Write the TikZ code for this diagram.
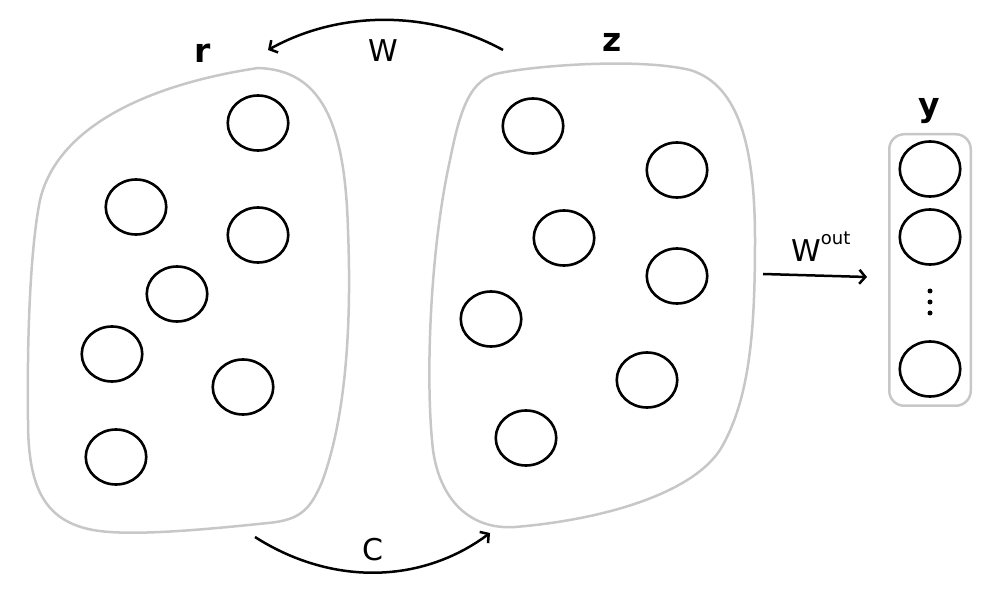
\documentclass[tikz,border=0pt]{standalone}
\usepackage{fontspec}
\setmainfont{DejaVu Sans}
\usetikzlibrary{shapes.geometric,arrows.meta}
\begin{document}
\begin{tikzpicture}[x=1pt,y=-1pt,
  unit/.style={ellipse,draw=black,line width=2.6pt,minimum width=60.5pt,minimum height=55pt,inner sep=0pt},
  blob/.style={draw=black!22,line width=2.5pt},
  conn/.style={line width=2.5pt,-{Straight Barb[length=6pt,width=14pt]}},
  lbl/.style={font=\fontsize{30}{36}\selectfont,anchor=base,inner sep=0pt},
  ttl/.style={font=\fontsize{33}{40}\selectfont\bfseries,anchor=base,inner sep=0pt},
  dot/.style={circle,fill=black,inner sep=0pt,minimum size=5pt}]
\useasboundingbox (0,0) rectangle (1007,601);
% left blob r
\draw[blob] (258,68) .. controls (320,70) and (345,120) .. (348,230)
  .. controls (352,330) and (345,420) .. (322,482)
  .. controls (310,510) and (300,520) .. (268,523)
  .. controls (220,528) and (150,535) .. (110,532)
  .. controls (45,528) and (28,490) .. (28,420)
  .. controls (27,340) and (30,250) .. (40,200)
  .. controls (57,128) and (145,85) .. (258,68) -- cycle;
% right blob z
\draw[blob] (500,73) .. controls (540,65) and (640,58) .. (690,70)
  .. controls (740,85) and (755,150) .. (755,240)
  .. controls (755,330) and (750,400) .. (720,450)
  .. controls (690,495) and (600,520) .. (515,527)
  .. controls (470,530) and (440,500) .. (433,450)
  .. controls (425,380) and (430,250) .. (450,160)
  .. controls (460,110) and (470,78) .. (500,73) -- cycle;
% r units
\node[unit] (r1) at (258,123) {};
\node[unit] (r2) at (136,207) {};
\node[unit] (r3) at (258,235) {};
\node[unit] (r4) at (177,294) {};
\node[unit] (r5) at (112,354) {};
\node[unit] (r6) at (243,387) {};
\node[unit] (r7) at (116,457) {};
% z units
\node[unit] (z1) at (533,126) {};
\node[unit] (z2) at (677,170) {};
\node[unit] (z3) at (564,238) {};
\node[unit] (z4) at (677,276) {};
\node[unit] (z5) at (491,319) {};
\node[unit] (z6) at (647,380) {};
\node[unit] (z7) at (526,438) {};
% y layer
\node[draw=black!22,line width=2.5pt,rounded corners=15pt,minimum width=81.5pt,minimum height=271.5pt,inner sep=0pt] (ybox) at (930,270) {};
\node[unit] (y1) at (930,169) {};
\node[unit] (y2) at (930,237) {};
\node[unit] (y3) at (930,369) {};
\node[dot] (d1) at (930,291) {};
\node[dot] (d2) at (930,302) {};
\node[dot] (d3) at (930,313) {};
% titles
\node[ttl] (tr) at (203,63) {r};
\node[ttl] (tz) at (612,52) {z};
\node[ttl] (ty) at (929,117) {y};
% connectors
\coordinate (wS) at (503,50);
\coordinate (wE) at (268,50);
\draw[conn] (wS) .. controls (430,10) and (340,10) .. (wE);
\node[lbl] (wl) at (383,62) {W};
\coordinate (cS) at (255,537);
\coordinate (cE) at (490,533);
\draw[conn] (cS) .. controls (330,585) and (420,585) .. (cE);
\node[lbl] (cl) at (373,560) {C};
\coordinate (oS) at (763,274);
\coordinate (oE) at (867,277);
\draw[conn] (oS) -- (oE);
\node[lbl,anchor=base west] (ol) at (791,262) {W\raisebox{17pt}{\fontsize{18}{20}\selectfont out}};
\end{tikzpicture}
\end{document}
